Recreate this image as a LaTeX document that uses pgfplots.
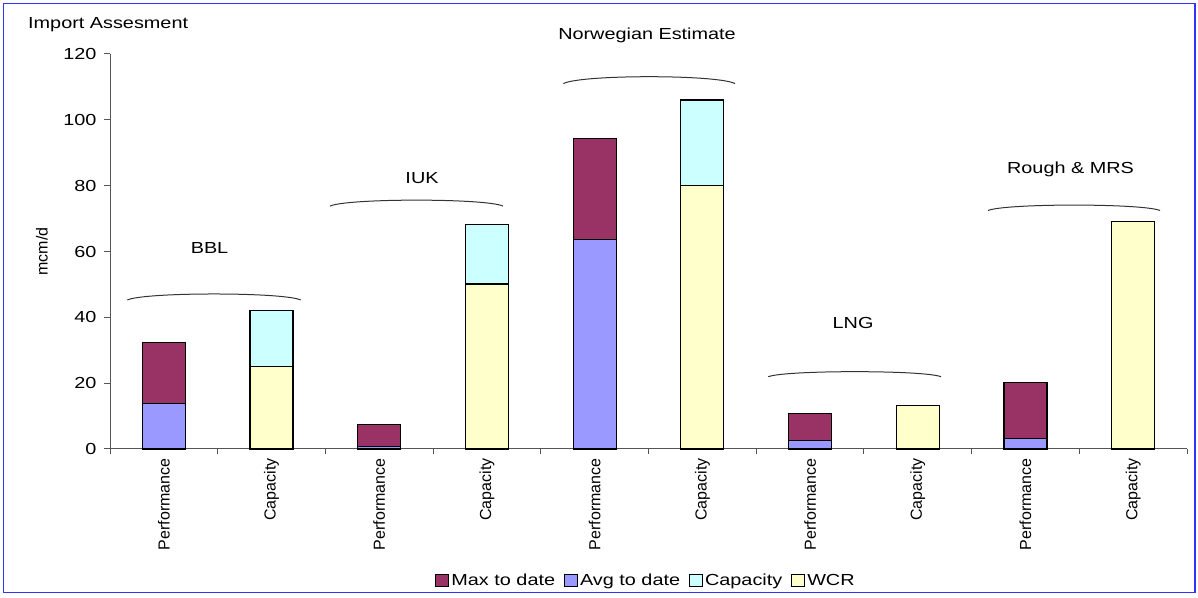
\documentclass[border=0pt]{standalone}
\usepackage{fontspec}
\setmainfont{Liberation Sans}[FakeStretch=1.24]
\newfontfamily\rotfont{Liberation Sans}
\usepackage{pgfplots}
\pgfplotsset{compat=1.18}

\definecolor{maxc}{HTML}{993366}
\definecolor{avgc}{HTML}{9999FF}
\definecolor{capc}{HTML}{CCFFFF}
\definecolor{wcrc}{HTML}{FFFFCC}
\definecolor{framec}{HTML}{3333FF}
\definecolor{axc}{HTML}{555555}
\newcommand{\fs}{\fontsize{16bp}{19bp}\selectfont}
\pgfplotsset{sqleg/.style={legend image code/.code={\draw[##1, draw=black, line width=1bp] (0bp,-6bp) rectangle (13bp,6bp);}}}

\begin{document}
\begin{tikzpicture}
\useasboundingbox (0,0) rectangle (1198bp,598bp);
\draw[framec, line width=1.5bp] (3.3bp,5.5bp) rectangle (1195bp,594.7bp);
\node[anchor=base west, font=\fs, inner sep=0pt] at (28bp,569bp) {Import Assesment};
\begin{axis}[
  at={(110bp,149bp)}, anchor=south west,
  scale only axis, width=1077bp, height=395bp,
  ybar, bar width=43bp,
  xmin=-0.5, xmax=9.5, ymin=0, ymax=120,
  clip=false,
  axis x line*=bottom, axis y line*=left,
  axis line style={axc, line width=1bp},
  tick align=outside,
  tick style={axc, line width=1bp},
  xtick={0,...,9},
  xticklabels={Performance,Capacity,Performance,Capacity,Performance,Capacity,Performance,Capacity,Performance,Capacity},
  major x tick style={draw=none},
  minor xtick={-0.5,0.5,...,9.5},
  minor tick length=5bp,
  major tick length=6bp,
  ytick={0,20,...,120},
  x tick label style={rotate=90, anchor=east, font=\rotfont\fs},
  y tick label style={font=\fs, xshift=-4bp},
  /pgf/number format/assume math mode=true,
  ylabel={mcm/d},
  every axis y label/.style={at={(axis description cs:0,0.5)}, xshift=-68bp, rotate=90, anchor=center, font=\rotfont\fs},
  legend style={at={(axis description cs:0.4977,-0.334)}, anchor=center, draw=none, legend columns=-1, font=\fs,
    /tikz/every even column/.append style={column sep=7bp}},
  every axis plot/.append style={draw=black, line width=1.2bp, bar shift=0pt},
]
\addlegendimage{sqleg, fill=maxc}
\addlegendentry{Max to date}
\addlegendimage{sqleg, fill=avgc}
\addlegendentry{Avg to date}
\addlegendimage{sqleg, fill=capc}
\addlegendentry{Capacity}
\addlegendimage{sqleg, fill=wcrc}
\addlegendentry{WCR}
% totals first, the lower parts drawn over them
\addplot[fill=maxc, forget plot] coordinates {(0,32.3) (2,7.4) (4,94.4) (6,10.8) (8,20.1)};
\addplot[fill=capc, forget plot] coordinates {(1,42.0) (3,68.1) (5,106.0)};
\addplot[fill=avgc, forget plot] coordinates {(0,13.8) (2,0.8) (4,63.7) (6,2.7) (8,3.3)};
\addplot[fill=wcrc, forget plot] coordinates {(1,25.1) (3,50.1) (5,80.0) (7,13.2) (9,69.2)};
% group labels and arcs
\node[font=\fs] at (axis cs:0.424,61.2) {BBL};
\node[font=\fs] at (axis cs:2.397,82.3) {IUK};
\node[font=\fs] at (axis cs:4.486,125.8) {Norwegian Estimate};
\node[font=\fs] at (axis cs:6.399,38.3) {LNG};
\node[font=\fs] at (axis cs:8.418,85.1) {Rough \& MRS};
\draw[black!80, line width=1bp] (axis cs:-0.339,45.27) .. controls (axis cs:-0.18,47.7) and (axis cs:1.11,47.7) .. (axis cs:1.271,45.27);
\draw[black!80, line width=1bp] (axis cs:1.543,73.8) .. controls (axis cs:1.703,76.2) and (axis cs:2.989,76.2) .. (axis cs:3.149,73.8);
\draw[black!80, line width=1bp] (axis cs:3.709,111.0) .. controls (axis cs:3.868,113.8) and (axis cs:5.144,113.8) .. (axis cs:5.303,111.0);
\draw[black!80, line width=1bp] (axis cs:5.612,21.96) .. controls (axis cs:5.772,24.0) and (axis cs:7.056,24.0) .. (axis cs:7.216,21.96);
\draw[black!80, line width=1bp] (axis cs:7.652,72.45) .. controls (axis cs:7.812,74.65) and (axis cs:9.089,74.65) .. (axis cs:9.249,72.45);
\end{axis}
\end{tikzpicture}
\end{document}
